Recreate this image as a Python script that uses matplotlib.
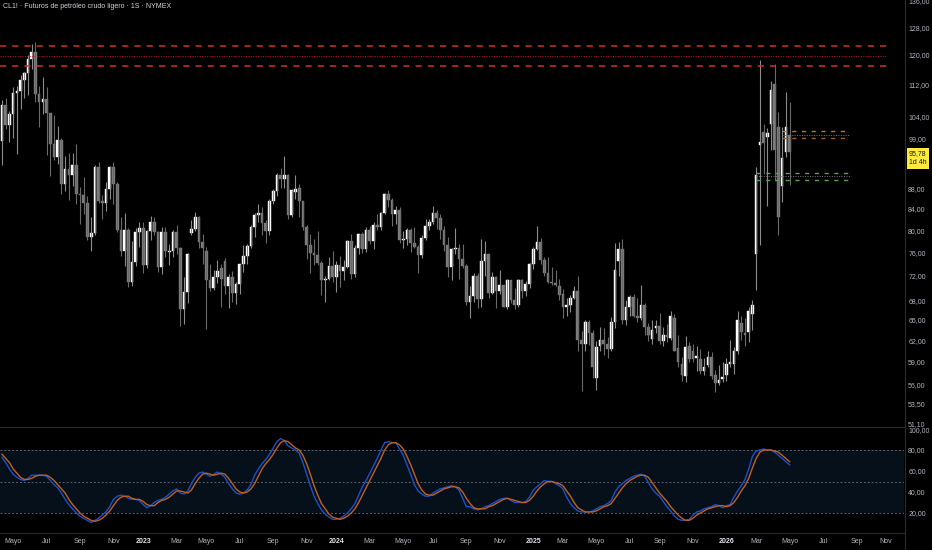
import numpy as np
import pandas as pd
import matplotlib
matplotlib.use('Agg')
import matplotlib.pyplot as plt
from matplotlib.lines import Line2D

plt.rcParams['font.family'] = ['Liberation Sans', 'DejaVu Sans']

# weekly bars, first one starts on this Monday
start = '2022-04-11'

opens = [
    # 2022
    98.3, 107.0, 102.0, 104.7, 109.8, 110.5, 113.2, 115.1, 118.9, 120.7,
    109.6, 107.6, 108.4, 104.8, 97.6, 94.7, 98.6, 89.0, 92.1, 90.8,
    93.1, 86.9, 86.8, 85.1, 78.7, 79.5, 92.6, 85.6, 85.1, 87.9,
    92.6, 89.0, 80.1, 76.3, 80.0, 71.0, 74.3, 79.6,
    # 2023
    80.3, 73.8, 79.9, 81.6, 79.7, 73.4, 79.7, 76.0, 76.3, 79.7,
    76.7, 66.7, 69.3, 79.5, 80.2, 82.5, 77.9, 76.3, 71.3, 70.0,
    71.7, 73.3, 74.5, 70.2, 71.8, 69.2, 70.6, 73.9, 75.4, 77.1,
    80.6, 82.8, 83.2, 81.3, 79.8, 85.6, 87.5, 90.8, 90.0, 90.8,
    82.8, 87.4, 88.1, 85.5, 80.5, 77.2, 75.9, 75.5, 74.1, 71.2,
    71.4, 73.6,
    # 2024
    71.7, 73.8, 72.7, 73.4, 78.0, 72.3, 76.8, 79.2, 76.5, 80.0,
    78.0, 81.0, 80.6, 83.2, 86.9, 85.7, 83.1, 83.9, 78.1, 78.3,
    80.1, 77.7, 77.0, 75.5, 78.5, 80.7, 81.5, 83.2, 82.2, 80.1,
    77.2, 73.5, 76.6, 76.7, 74.8, 73.6, 67.7, 68.7, 71.9, 68.2,
    74.4, 75.6, 69.2, 71.8, 69.5, 70.4, 67.0, 71.2, 68.0, 67.2,
    71.3, 69.5, 70.6,
    # 2025
    73.9, 76.6, 77.9, 74.7, 72.5, 71.0, 70.7, 70.2, 69.0, 67.0,
    67.2, 68.3, 69.4, 62.0, 61.5, 64.7, 63.0, 56.8, 61.2, 62.0,
    61.5, 60.8, 64.6, 74.5, 76.5, 65.0, 67.0, 68.5, 65.6, 65.2,
    67.3, 63.9, 62.2, 63.7, 64.0, 61.9, 62.7, 62.3, 65.2, 60.9,
    58.6, 57.0, 61.2, 60.5, 59.5, 59.3, 57.7, 58.5, 59.6, 57.2,
    56.2, 56.6,
    # 2026
    57.2, 58.6, 58.6, 60.5, 64.5, 63.0, 63.2, 65.8, 75.6, 97.5,
    100.5, 99.3, 102.3, 112.1, 101.5, 88.5, 95.8, 99.7,
]

highs = [
    108.0, 108.6, 105.5, 111.4, 111.6, 114.5, 115.3, 119.9, 123.2, 123.7,
    111.8, 114.0, 111.5, 105.0, 104.4, 101.9, 99.0, 95.0, 95.6, 95.7,
    97.7, 88.3, 90.5, 86.5, 82.4, 93.0, 93.6, 86.8, 89.4, 92.8,
    93.7, 89.4, 82.5, 83.3, 80.3, 78.0, 80.3, 81.5,
    81.5, 80.1, 82.6, 82.5, 79.9, 80.6, 80.6, 77.4, 80.1, 81.0,
    77.0, 71.7, 75.8, 81.8, 83.5, 82.7, 79.2, 77.0, 74.0, 73.0,
    74.7, 74.0, 75.0, 72.3, 72.7, 71.0, 74.0, 77.3, 77.5, 81.0,
    83.3, 84.9, 84.4, 81.8, 86.0, 88.0, 91.2, 92.4, 95.0, 91.0,
    87.8, 90.8, 89.0, 85.5, 81.0, 79.3, 78.3, 79.8, 74.5, 72.0,
    75.1, 76.2,
    74.5, 75.3, 74.7, 78.2, 79.3, 77.2, 79.3, 79.6, 80.6, 80.8,
    81.5, 83.1, 83.4, 87.1, 87.7, 86.2, 84.5, 84.4, 79.9, 80.3,
    80.4, 80.6, 77.2, 79.0, 82.0, 82.1, 84.5, 83.8, 83.0, 80.8,
    78.8, 76.8, 80.3, 77.4, 77.5, 74.0, 70.3, 72.4, 72.4, 78.4,
    78.0, 75.7, 72.6, 71.9, 72.9, 70.4, 71.4, 71.2, 70.0, 71.4,
    71.5, 71.1, 74.1,
    77.0, 80.8, 78.5, 75.2, 75.2, 73.5, 73.0, 71.4, 69.8, 68.4,
    68.8, 70.2, 72.0, 63.3, 64.9, 64.9, 63.5, 61.9, 63.9, 63.7,
    62.4, 65.4, 77.6, 77.8, 78.4, 68.0, 68.8, 69.0, 68.3, 70.5,
    67.5, 64.5, 64.9, 65.0, 66.0, 63.9, 64.4, 66.4, 65.9, 62.7,
    59.6, 62.6, 61.8, 61.4, 61.2, 60.7, 59.5, 60.5, 60.3, 57.8,
    58.5, 58.9,
    59.5, 62.0, 61.0, 66.4, 65.5, 65.2, 67.0, 68.0, 92.5, 118.7,
    102.3, 101.4, 113.0, 117.4, 105.2, 101.5, 110.1, 107.5,
]

lows = [
    93.0, 101.0, 98.2, 99.0, 95.5, 106.0, 108.5, 109.3, 116.3, 107.5,
    101.5, 104.6, 95.1, 90.6, 94.0, 93.3, 87.0, 87.5, 85.7, 88.5,
    85.0, 81.2, 83.0, 78.2, 76.3, 79.0, 85.2, 82.1, 83.6, 86.0,
    85.0, 79.7, 75.3, 73.6, 70.1, 70.3, 73.6, 77.0,
    72.5, 73.3, 78.2, 79.1, 72.6, 72.3, 75.1, 73.8, 75.1, 75.7,
    64.1, 64.4, 67.6, 79.0, 79.9, 76.8, 74.0, 63.6, 69.4, 69.6,
    70.8, 67.0, 69.0, 66.8, 67.7, 67.4, 69.0, 72.6, 73.9, 76.7,
    78.8, 81.5, 79.0, 77.6, 79.0, 85.0, 86.5, 88.2, 88.2, 82.0,
    82.5, 86.0, 82.4, 80.0, 74.9, 72.4, 73.8, 73.8, 68.8, 67.7,
    71.2, 71.0,
    69.3, 70.1, 71.3, 73.2, 71.4, 71.7, 75.6, 75.9, 76.1, 77.4,
    76.5, 80.0, 80.1, 83.0, 84.4, 80.7, 81.2, 77.6, 76.8, 77.2,
    76.0, 76.7, 72.5, 75.0, 78.2, 80.0, 81.2, 80.2, 78.3, 76.3,
    71.7, 71.2, 75.7, 71.4, 73.2, 67.2, 65.3, 67.7, 66.8, 66.9,
    71.9, 68.4, 69.0, 66.8, 69.0, 66.9, 66.6, 67.6, 66.7, 66.9,
    68.3, 68.7, 70.0,
    73.1, 76.4, 73.9, 72.0, 70.8, 70.5, 70.2, 68.0, 65.2, 65.5,
    66.1, 68.2, 60.5, 55.1, 60.5, 61.3, 56.8, 55.3, 60.5, 59.9,
    59.5, 60.5, 63.7, 72.0, 64.4, 64.2, 65.5, 65.4, 64.7, 65.0,
    62.7, 61.9, 61.5, 63.0, 61.5, 61.2, 61.8, 62.0, 60.4, 58.2,
    56.4, 56.3, 59.0, 59.0, 57.7, 57.3, 57.2, 58.3, 56.6, 55.0,
    55.9, 56.3,
    56.4, 58.2, 57.3, 60.0, 62.0, 61.2, 61.8, 63.5, 69.7, 77.3,
    91.0, 84.5, 96.4, 89.6, 79.0, 85.3, 94.8, 88.9,
]

closes = [
    106.9, 102.1, 104.7, 109.8, 110.5, 113.2, 115.1, 118.9, 120.7, 109.6,
    107.6, 108.4, 104.8, 97.6, 94.7, 98.6, 89.0, 92.1, 90.8, 93.1,
    86.9, 86.8, 85.1, 78.7, 79.5, 92.6, 85.6, 85.1, 87.9, 92.6,
    89.0, 80.1, 76.3, 80.0, 71.0, 74.3, 79.6, 80.3,
    73.8, 79.9, 81.6, 79.7, 73.4, 79.7, 76.3, 76.3, 79.7, 76.7,
    66.7, 69.3, 75.7, 80.2, 82.5, 77.9, 76.8, 71.3, 70.0, 71.7,
    72.7, 71.5, 70.2, 71.8, 69.2, 70.6, 73.9, 75.4, 77.1, 80.6,
    82.8, 83.2, 81.3, 79.8, 85.6, 87.5, 90.8, 90.0, 90.8, 82.8,
    87.7, 88.0, 85.5, 80.5, 77.2, 75.9, 75.5, 74.1, 71.2, 71.4,
    73.6, 71.7,
    73.8, 72.7, 73.4, 78.0, 72.3, 76.8, 79.2, 76.5, 80.0, 78.0,
    81.0, 80.6, 83.2, 86.9, 85.7, 83.1, 83.9, 78.1, 78.3, 80.1,
    77.7, 77.0, 75.5, 78.5, 80.7, 81.5, 83.2, 82.2, 80.1, 77.2,
    73.5, 76.6, 76.7, 74.8, 73.6, 67.7, 68.7, 71.9, 68.2, 74.4,
    75.6, 69.2, 71.8, 69.5, 70.4, 67.0, 71.2, 68.0, 67.2, 71.3,
    69.5, 70.6, 73.9,
    76.6, 77.9, 74.7, 72.5, 71.0, 70.7, 70.4, 68.8, 67.0, 67.2,
    68.3, 69.4, 62.0, 61.5, 64.7, 63.0, 58.3, 61.0, 62.0, 61.5,
    60.8, 64.6, 73.0, 76.5, 65.0, 67.0, 68.5, 65.6, 65.2, 67.3,
    63.9, 62.8, 63.4, 64.0, 61.9, 62.7, 62.5, 65.6, 60.5, 58.9,
    57.2, 61.0, 59.4, 59.4, 59.7, 57.7, 58.3, 59.6, 57.0, 56.1,
    56.5, 56.9,
    58.7, 59.0, 60.5, 64.9, 63.2, 62.8, 66.3, 67.2, 90.9, 98.1,
    97.8, 100.2, 110.6, 96.4, 82.4, 94.5, 101.6, 95.78,
]

# stochastic RSI, %K (blue) and %D (orange)
stoch_k = [
    73, 68, 62, 57, 54, 52, 51, 53, 56, 56, 56, 56, 55, 51, 47, 44, 39, 33, 28, 24,
    20, 17, 15, 13, 11, 13, 15, 18, 21, 26, 33, 36, 37, 36, 34, 33, 33, 32, 28, 25,
    27, 30, 32, 33, 35, 38, 41, 43, 39, 38, 41, 48, 54, 58, 59, 57, 55, 57, 59, 57,
    54, 48, 43, 39, 38, 39, 42, 47, 56, 62, 67, 71, 76, 82, 88, 91, 89, 84, 82, 80,
    77, 68, 57, 46, 36, 29, 23, 19, 16, 14, 14, 15, 17, 20, 24, 29, 37, 45, 51, 58,
    65, 72, 80, 87, 88, 87, 87, 81, 75, 66, 57, 47, 41, 38, 36, 36, 39, 41, 43, 44,
    45, 46, 45, 42, 34, 26, 26, 24, 23, 24, 26, 27, 29, 31, 33, 34, 34, 32, 30, 30,
    30, 31, 35, 42, 45, 48, 51, 50, 50, 48, 46, 43, 35, 29, 25, 22, 21, 21, 21, 22,
    24, 26, 27, 29, 32, 40, 45, 48, 51, 53, 55, 56, 57, 55, 49, 43, 39, 36, 31, 26,
    22, 17, 14, 13, 13, 14, 18, 21, 22, 24, 25, 26, 28, 27, 25, 27, 28, 35, 41, 46,
    52, 62, 74, 79, 80, 81, 80, 80, 78, 75, 72, 69, 66,
]

stoch_d = [
    76, 72, 68, 62, 58, 54, 52, 52, 53, 55, 56, 56, 56, 54, 51, 47, 43, 39, 33, 28,
    24, 20, 17, 15, 13, 12, 13, 15, 18, 22, 27, 32, 35, 36, 36, 34, 33, 33, 31, 28,
    27, 27, 30, 32, 33, 35, 38, 41, 41, 40, 39, 42, 48, 53, 57, 58, 57, 56, 57, 58,
    57, 53, 48, 43, 40, 39, 40, 43, 48, 55, 62, 67, 71, 76, 82, 87, 89, 88, 85, 82,
    80, 75, 67, 57, 46, 37, 29, 24, 19, 16, 15, 14, 15, 17, 20, 24, 30, 37, 44, 51,
    58, 65, 72, 80, 85, 87, 87, 85, 81, 74, 66, 57, 48, 42, 38, 37, 37, 39, 41, 43,
    44, 45, 45, 44, 40, 34, 29, 25, 24, 24, 24, 26, 27, 29, 31, 33, 34, 33, 32, 31,
    30, 30, 32, 36, 41, 45, 48, 50, 50, 49, 48, 46, 41, 36, 30, 25, 23, 21, 21, 21,
    22, 24, 26, 27, 29, 34, 39, 44, 48, 51, 53, 55, 56, 56, 54, 49, 44, 39, 35, 31,
    26, 22, 18, 15, 13, 13, 15, 18, 20, 22, 24, 25, 26, 27, 27, 26, 27, 30, 35, 41,
    46, 53, 63, 72, 78, 80, 80, 80, 79, 78, 75, 72, 69,
]

price_ticks = [136, 128, 120, 112, 104, 99, 88, 84, 80, 76, 72, 68, 65, 62, 59, 56, 53.5, 51.1]
osc_ticks = [20, 40, 60, 80, 100]
month_names = {3: 'Mar', 5: 'Mayo', 7: 'Jul', 9: 'Sep', 11: 'Nov'}

# drawn levels
red_dashed = [122.5, 117.0]
red_dotted = 119.8
orange_dashed = [100.6, 99.0]
orange_dotted = 99.8
green_dashed = [91.3, 89.8]
gray_dotted = 90.6

bg = '#000000'
txt = '#b2b5be'
sep = '#2a2a2a'

o = np.array(opens)
h = np.array(highs)
l = np.array(lows)
c = np.array(closes)
x = np.arange(len(c))
up = c >= o

fig = plt.figure(figsize=(9.32, 5.5), dpi=100, facecolor=bg)
ax = fig.add_axes([0, 123 / 550, 904 / 932, 427 / 550], facecolor=bg)
ax2 = fig.add_axes([0, 17 / 550, 904 / 932, 105 / 550], facecolor=bg)

xlim = (-0.54, 242.8)

# ---- price pane
ax.set_yscale('log')
ax.vlines(x[up], l[up], h[up], color='#8c8c8c', lw=0.8)
ax.vlines(x[~up], l[~up], h[~up], color='#6a6a6a', lw=0.8)
ax.bar(x[up], c[up] - o[up], bottom=o[up], width=0.72, color='#ffffff',
       edgecolor='#ffffff', lw=0.3)
ax.bar(x[~up], o[~up] - c[~up], bottom=c[~up], width=0.72, color='#7b7b7b',
       edgecolor='#7b7b7b', lw=0.3)

for lv in red_dashed:
    ax.hlines(lv, xlim[0], 238, color='#d32f2f', lw=1.1, linestyles=(0, (4, 4)))
ax.hlines(red_dotted, xlim[0], 238, color='#b71c1c', lw=0.7, linestyles=(0, (1, 1.5)))
for lv, col in zip(orange_dashed, ['#b8762f', '#9c5f2a']):
    ax.hlines(lv, 210, 228, color=col, lw=1.0, linestyles=(0, (3, 4)))
ax.hlines(orange_dotted, 210, 228, color='#c0602a', lw=0.7, linestyles=(0, (1, 1.5)))
for lv in green_dashed:
    ax.hlines(lv, 203, 228, color='#5a9e5e', lw=1.0, linestyles=(0, (3, 4)))
ax.hlines(gray_dotted, 203, 228.5, color='#777777', lw=0.7, linestyles=(0, (1, 1.5)))

ax.set_xlim(*xlim)
ax.set_ylim(50.7, 136.3)
ax.yaxis.tick_right()
ax.set_yticks(price_ticks)
ax.set_yticklabels([f'{v:.2f}'.replace('.', ',') for v in price_ticks])
ax.minorticks_off()
ax.tick_params(axis='y', length=0, pad=3, labelsize=5, colors=txt)
ax.set_xticks([])
for s in ['top', 'left', 'right']:
    ax.spines[s].set_visible(False)
ax.spines['bottom'].set_color(sep)
ax.spines['bottom'].set_linewidth(0.8)

ax.text(3 / 904, 1 - 7 / 427, 'CL1! · Futuros de petróleo crudo ligero · 1S · NYMEX',
        transform=ax.transAxes, fontsize=5, color='#d1d4dc', va='center', ha='left')

last = f'{closes[-1]:.2f}'.replace('.', ',')
ax.annotate(last + '\n1d 4h', xy=(1, closes[-1]), xycoords=('axes fraction', 'data'),
            xytext=(10, -4.3), textcoords='offset points', ha='center', va='center',
            fontsize=5, color='#131722', linespacing=1.35, annotation_clip=False,
            bbox=dict(boxstyle='square,pad=0.35', fc='#ffeb3b', ec='none'))

# ---- stochastic RSI pane
ax2.axhspan(20, 80, color='#06101a', lw=0)
for lv in [80, 50, 20]:
    ax2.axhline(lv, color='#5d606b', lw=0.7, ls=(0, (2, 2)))
ax2.plot(x, stoch_k, color='#1e4fc8', lw=1.0)
ax2.plot(x, stoch_d, color='#c0601e', lw=1.0)
ax2.set_xlim(*xlim)
ax2.set_ylim(0.95, 101)
ax2.yaxis.tick_right()
ax2.set_yticks(osc_ticks)
ax2.set_yticklabels([f'{v:.2f}'.replace('.', ',') for v in osc_ticks])
ax2.tick_params(axis='y', length=0, pad=3, labelsize=5, colors=txt)

t0 = pd.Timestamp(start)
tick_pos, tick_lab = [], []
for m in pd.date_range('2022-05-01', '2026-11-01', freq='2MS'):
    first = m + pd.Timedelta(days=(7 - m.weekday()) % 7)
    tick_pos.append((first - t0).days / 7)
    tick_lab.append(str(m.year) if m.month == 1 else month_names[m.month])
ax2.set_xticks(tick_pos)
ax2.set_xticklabels(tick_lab)
ax2.tick_params(axis='x', length=0, pad=3.5, labelsize=5, colors=txt)
for t in ax2.get_xticklabels():
    if t.get_text().isdigit():
        t.set_fontweight('bold')
        t.set_color('#e0e3eb')
for s in ['top', 'left', 'right']:
    ax2.spines[s].set_visible(False)
ax2.spines['bottom'].set_color(sep)
ax2.spines['bottom'].set_linewidth(0.8)

fig.add_artist(Line2D([904.5 / 932] * 2, [0, 1], color=sep, lw=0.8,
                      transform=fig.transFigure))

fig.savefig('out.png', dpi=100, facecolor=bg)
